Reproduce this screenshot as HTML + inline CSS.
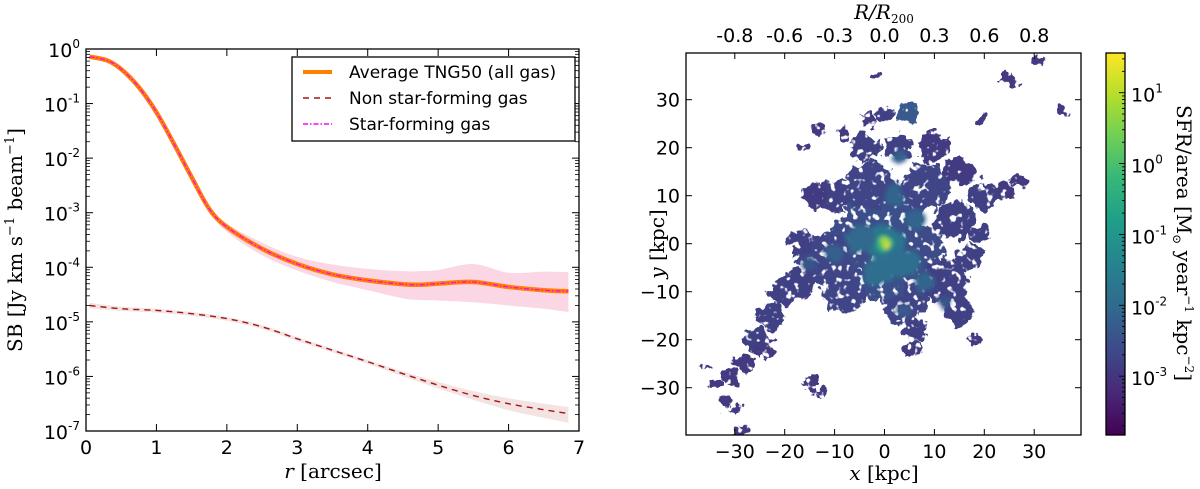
<!DOCTYPE html>
<html><head><meta charset="utf-8">
<style>
html,body{margin:0;padding:0;background:#fff;}
svg{display:block;}
.tk{font-family:"DejaVu Sans","Liberation Sans",sans-serif;font-size:19px;fill:#000;}
.sup{font-size:12px;}
.lab{font-family:"DejaVu Serif","Liberation Serif",serif;font-size:20px;fill:#000;}
.leg{font-family:"DejaVu Sans","Liberation Sans",sans-serif;font-size:17px;fill:#000;}
</style></head><body>
<svg id="fig" width="1200" height="489" viewBox="0 0 1200 489" xmlns="http://www.w3.org/2000/svg">
<defs>
<clipPath id="clipL"><rect x="86" y="49" width="493" height="382"/></clipPath>
<clipPath id="clipR"><rect x="686" y="53" width="395" height="382"/></clipPath>
<linearGradient id="vir" x1="0" y1="1" x2="0" y2="0">
<stop offset="0" stop-color="#440154"/><stop offset="0.11" stop-color="#482878"/><stop offset="0.22" stop-color="#3e4989"/><stop offset="0.33" stop-color="#31688e"/><stop offset="0.44" stop-color="#26828e"/><stop offset="0.56" stop-color="#1f9e89"/><stop offset="0.67" stop-color="#35b779"/><stop offset="0.78" stop-color="#6ece58"/><stop offset="0.89" stop-color="#b5de2b"/><stop offset="1" stop-color="#fde725"/>
</linearGradient>
<filter id="rag" x="-10%" y="-10%" width="120%" height="120%">
<feTurbulence type="fractalNoise" baseFrequency="0.09" numOctaves="3" seed="4" result="n"/>
<feDisplacementMap in="SourceGraphic" in2="n" scale="18" xChannelSelector="R" yChannelSelector="G" result="d"/>
<feTurbulence type="fractalNoise" baseFrequency="0.14" numOctaves="2" seed="9" result="n2"/>
<feColorMatrix in="n2" type="matrix" values="0 0 0 0 0  0 0 0 0 0  0 0 0 0 0  0 0 0 -10 7" result="holes"/>
<feComposite in="d" in2="holes" operator="in"/>
</filter>
<filter id="soft" x="-20%" y="-20%" width="140%" height="140%">
<feTurbulence type="fractalNoise" baseFrequency="0.08" numOctaves="2" seed="2" result="n"/>
<feDisplacementMap in="SourceGraphic" in2="n" scale="10" xChannelSelector="R" yChannelSelector="G" result="d"/>
<feGaussianBlur in="d" stdDeviation="2"/>
</filter>
</defs>
<g id="left"></g>
<g id="right"></g>
</svg>
<script>
// ---- left chart data (log10 SB) ----
const rVals      = [0.05, 0.3, 0.5, 0.75, 1.0, 1.25, 1.5, 1.75, 2.0, 2.5, 3.0, 3.5, 4.0, 4.5, 4.75, 5.0, 5.5, 6.0, 6.5, 6.85];
const allGasLog  = [-0.14,-0.21,-0.37,-0.70,-1.16,-1.74,-2.35,-2.93,-3.26,-3.66,-3.94,-4.13,-4.24,-4.31,-4.32,-4.30,-4.27,-4.36,-4.42,-4.44];
const allGasUp   = [-0.13,-0.20,-0.36,-0.69,-1.15,-1.73,-2.34,-2.90,-3.20,-3.55,-3.81,-3.95,-4.03,-4.07,-4.07,-4.05,-3.94,-4.10,-4.08,-4.09];
const allGasLo   = [-0.15,-0.22,-0.38,-0.71,-1.17,-1.75,-2.36,-2.96,-3.35,-3.78,-4.06,-4.27,-4.42,-4.57,-4.60,-4.61,-4.64,-4.70,-4.76,-4.82];
const rNon       = [0.05, 0.5, 1.0, 1.5, 2.0, 2.5, 3.0, 3.5, 4.0, 4.5, 5.0, 5.5, 6.0, 6.5, 6.85];
const nonSFLog   = [-4.70,-4.76,-4.79,-4.85,-4.94,-5.09,-5.31,-5.52,-5.73,-5.95,-6.16,-6.35,-6.50,-6.61,-6.68];
const nonSFUp    = [-4.65,-4.72,-4.76,-4.82,-4.91,-5.06,-5.28,-5.49,-5.70,-5.91,-6.10,-6.27,-6.40,-6.50,-6.56];
const nonSFLo    = [-4.75,-4.80,-4.83,-4.89,-4.98,-5.13,-5.35,-5.56,-5.77,-6.00,-6.22,-6.43,-6.62,-6.76,-6.85];
const xTicksL    = [0,1,2,3,4,5,6,7];
const yDecades   = [0,-1,-2,-3,-4,-5,-6,-7];

// ---- right chart data (kpc, log10 SFR/area) ----
const xTicksR   = [-30,-20,-10,0,10,20,30];
const yTicksR   = [30,20,10,0,-10,-20,-30];
const topLabels = ["-0.8","-0.6","-0.3","0.0","0.3","0.6","0.8"];
const cbDecades = [1,0,-1,-2,-3];
// outer diffuse gas
const blobX   = [0,-6,6,-3,8,-12,-8,4,12,14,-10,-4,3,10,15,-17,-14,-20,-23,-26,-28,-31,-32,-34,-29,-15,-13,20,24,27,6,6,15,18,4.5,0,-3,-8,-13,25,31,36,19,-2,-16,17,19,-17,8,0,-24,-30,-36];
const blobY   = [5,0,-3,12,12,-3,-10,-12,-8,5,10,20,20,20,15,0,10,-10,-15,-20,-25,-28,-33,-29,-39,-29,-31,10,11,13,-18,-22,-14,-20,27,27,26,23,24,34,38,27,26,35,20,-3,2,-8,0,-7,-22,-35,-26];
const blobR   = [8,6,6,5,5,5,4.5,4.5,4.5,4,3.5,3,3,3,3,2.5,2.5,3,3,2.5,2,1.8,1.5,1.2,1.2,1.5,1.2,3,2,1.5,2.5,1.5,3,1.5,2,1.5,1.5,1.5,1,1.5,1.2,1.2,1,0.8,1,3,2,3,4,5,2,1.2,1.2];
const blobLvl = [-2.5,-2.6,-2.6,-2.7,-2.7,-2.7,-2.7,-2.7,-2.8,-2.8,-2.8,-2.8,-2.8,-2.9,-2.9,-2.8,-2.9,-2.8,-2.8,-2.8,-2.9,-2.9,-2.9,-2.9,-2.9,-2.9,-2.9,-2.8,-2.9,-2.9,-2.8,-2.9,-2.8,-2.9,-2.3,-2.8,-2.9,-2.9,-2.9,-2.9,-2.9,-2.9,-2.9,-2.9,-2.9,-2.8,-2.8,-2.8,-2.6,-2.5,-2.9,-2.9,-2.9];
// inner filaments and core
const coreX   = [0,-5,4,2,3,-10,8,-1,6,4,-15,12, 0,0,0.5];
const coreY   = [0,1,-4,10,18,-2,-8,-6,5,-14,-4,-12, 0,0.2,-0.5];
const coreR   = [4,3,3,2.2,1.5,2,2,3,2,1.5,1.5,1.5, 1.8,1,0.6];
const coreLvl = [-1.7,-2.0,-1.9,-2.1,-2.2,-2.2,-2.1,-1.9,-2.1,-2.3,-2.4,-2.4, -0.5,0.8,1.3];

const NS = "http://www.w3.org/2000/svg";
function mk(parent, tag, attrs, text){
  const e = document.createElementNS(NS, tag);
  for (const k in attrs) e.setAttribute(k, attrs[k]);
  if (text !== undefined) e.textContent = text;
  parent.appendChild(e);
  return e;
}
// ---------- LEFT ----------
const L = document.getElementById('left');
const lx0=86, lx1=579, ly0=49, ly1=431;
const xL = r => lx0 + (r/7)*(lx1-lx0);
const yL = lg => ly0 + (-lg/7)*(ly1-ly0);
function smoothPath(xs, ys){
  const p = xs.map((v,i)=>[v,ys[i]]);
  let d = `M${p[0][0]},${p[0][1]}`;
  for (let i=0;i<p.length-1;i++){
    const p0=p[Math.max(0,i-1)], p1=p[i], p2=p[i+1], p3=p[Math.min(p.length-1,i+2)];
    const c1=[p1[0]+(p2[0]-p0[0])/6, p1[1]+(p2[1]-p0[1])/6];
    const c2=[p2[0]-(p3[0]-p1[0])/6, p2[1]-(p3[1]-p1[1])/6];
    d += ` C${c1[0]},${c1[1]} ${c2[0]},${c2[1]} ${p2[0]},${p2[1]}`;
  }
  return d;
}
function bandPath(rs, up, lo){
  const px = rs.map(xL);
  let d = smoothPath(px, up.map(yL));
  const rpx = px.slice().reverse(), rlo = lo.map(yL).reverse();
  d += ' L' + smoothPath(rpx, rlo).slice(1) + ' Z';
  return d;
}
const plotL = mk(L,'g',{'clip-path':'url(#clipL)'});
let e;
e = mk(plotL,'path',{d:bandPath(rVals,allGasUp,allGasLo),fill:'#f9c9dc','fill-opacity':'0.75'});


e = mk(plotL,'path',{d:bandPath(rNon,nonSFUp,nonSFLo),fill:'#f0dcdc','fill-opacity':'0.8'});


e = mk(plotL,'path',{d:smoothPath(rVals.map(xL),allGasLog.map(yL)),fill:'none',stroke:'#ff8000','stroke-width':'4.5'});


e = mk(plotL,'path',{d:smoothPath(rVals.map(xL),allGasLog.map(yL)),fill:'none',stroke:'#ff00ff','stroke-width':'1.3','stroke-dasharray':'5,2,1.5,2'});


e = mk(plotL,'path',{d:smoothPath(rNon.map(xL),nonSFLog.map(yL)),fill:'none',stroke:'#a31515','stroke-width':'1.4','stroke-dasharray':'6,5'});


e = mk(L,'rect',{x:lx0,y:ly0,width:lx1-lx0,height:ly1-ly0,fill:'none',stroke:'#000','stroke-width':'1.3'});


xTicksL.forEach(t=>{
  const x=xL(t);
  mk(L,'line',{x1:x,x2:x,y1:ly1,y2:ly1-7,stroke:'#000'});
  mk(L,'line',{x1:x,x2:x,y1:ly0,y2:ly0+7,stroke:'#000'});
  const tx = mk(L,'text',{x:x,y:454,'text-anchor':'middle',class:'tk'},String(t));
  
  
});
yDecades.forEach(dd=>{
  const y=yL(dd);
  mk(L,'line',{x1:lx0,x2:lx0+7,y1:y,y2:y,stroke:'#000'});
  mk(L,'line',{x1:lx1,x2:lx1-7,y1:y,y2:y,stroke:'#000'});
  if (dd>-7){ for(let m=2;m<10;m++){ const ym=yL(dd-1+Math.log10(m));
    mk(L,'line',{x1:lx0,x2:lx0+4,y1:ym,y2:ym,stroke:'#000','stroke-width':'0.8'});
    mk(L,'line',{x1:lx1,x2:lx1-4,y1:ym,y2:ym,stroke:'#000','stroke-width':'0.8'}); } }
  const tx = mk(L,'text',{x:80,y:y+8,'text-anchor':'end',class:'tk'});
  
  
  mk(tx,'tspan',{},'10');
  mk(tx,'tspan',{class:'sup',dy:'-9'},String(dd));
});
e = mk(L,'text',{x:333,y:478,'text-anchor':'middle',class:'lab'});


mk(e,'tspan',{'font-style':'italic'},'r');
mk(e,'tspan',{},' [arcsec]');
e = mk(L,'text',{x:0,y:0,'text-anchor':'middle',class:'lab',transform:'translate(22,240) rotate(-90)'});


mk(e,'tspan',{},'SB [Jy km s');
mk(e,'tspan',{dy:'-8','font-size':'13'},'−1');
mk(e,'tspan',{dy:'8'},' beam');
mk(e,'tspan',{dy:'-8','font-size':'13'},'−1');
mk(e,'tspan',{dy:'8'},']');
// legend
const lg = mk(L,'g',{});


mk(lg,'rect',{x:292,y:57,width:283,height:84,fill:'#fff',stroke:'#000','stroke-width':'1.3'});
mk(lg,'line',{x1:303,x2:332,y1:72,y2:72,stroke:'#ff8000','stroke-width':'4'});
mk(lg,'line',{x1:303,x2:332,y1:98,y2:98,stroke:'#a31515','stroke-width':'1.4','stroke-dasharray':'6,5'});
mk(lg,'line',{x1:303,x2:332,y1:124,y2:124,stroke:'#ff00ff','stroke-width':'1.5','stroke-dasharray':'5,2,1.5,2'});
[['Average TNG50 (all gas)',72,'legend-entry-all-gas'],['Non star-forming gas',98,'legend-entry-non-sf'],['Star-forming gas',124,'legend-entry-sf']].forEach(a=>{
  const t = mk(lg,'text',{x:349,y:a[1]+6,class:'leg'},a[0]);
  
  
});

// ---------- RIGHT ----------
const R = document.getElementById('right');
const rx0=686, rx1=1081, ry0=53, ry1=435;
const xR = k => 884.5 + k*4.99;
const yR = k => 243.7 - k*4.8;
const cmin=-3.83, cmax=1.56;
const vir = ['#440154','#482878','#3e4989','#31688e','#26828e','#1f9e89','#35b779','#6ece58','#b5de2b','#fde725'];
function hex2(c){return [1,3,5].map(i=>parseInt(c.substr(i,2),16));}
function color(lv){
  let t=(lv-cmin)/(cmax-cmin); t=Math.max(0,Math.min(1,t));
  const f=t*(vir.length-1), i=Math.min(vir.length-2,Math.floor(f)), u=f-i;
  const a=hex2(vir[i]), b=hex2(vir[i+1]);
  return 'rgb('+a.map((v,j)=>Math.round(v+(b[j]-v)*u)).join(',')+')';
}
const plotR = mk(R,'g',{'clip-path':'url(#clipR)'});
const ragged = mk(plotR,'g',{filter:'url(#rag)'});
blobX.forEach((bx,i)=>{
  const c = mk(ragged,'ellipse',{cx:xR(bx),cy:yR(blobY[i]),rx:blobR[i]*4.99,ry:blobR[i]*4.8,fill:color(blobLvl[i])});
  
  
});
const inner = mk(plotR,'g',{filter:'url(#soft)'});
coreX.forEach((bx,i)=>{
  const c = mk(inner,'ellipse',{cx:xR(bx),cy:yR(coreY[i]),rx:coreR[i]*4.99,ry:coreR[i]*4.8,fill:color(coreLvl[i])});
  
  
});
e = mk(R,'rect',{x:rx0,y:ry0,width:rx1-rx0,height:ry1-ry0,fill:'none',stroke:'#000','stroke-width':'1.3'});


xTicksR.forEach((t,i)=>{
  const x=xR(t);
  mk(R,'line',{x1:x,x2:x,y1:ry1,y2:ry1-6,stroke:'#000'});
  mk(R,'line',{x1:x,x2:x,y1:ry0,y2:ry0+6,stroke:'#000'});
  const tx = mk(R,'text',{x:x,y:458,'text-anchor':'middle',class:'tk'},t<0?'−'+(-t):String(t));
  
  
  const tt = mk(R,'text',{x:x,y:42,'text-anchor':'middle',class:'tk'},topLabels[i]);
  
  
});
yTicksR.forEach(t=>{
  const y=yR(t);
  mk(R,'line',{x1:rx0,x2:rx0+6,y1:y,y2:y,stroke:'#000'});
  mk(R,'line',{x1:rx1,x2:rx1-6,y1:y,y2:y,stroke:'#000'});
  const tx = mk(R,'text',{x:680,y:y+7,'text-anchor':'end',class:'tk'},t<0?'−'+(-t):String(t));
  
  
});
e = mk(R,'text',{x:884,y:480,'text-anchor':'middle',class:'lab'});


mk(e,'tspan',{'font-style':'italic'},'x');
mk(e,'tspan',{},' [kpc]');
e = mk(R,'text',{x:0,y:0,'text-anchor':'middle',class:'lab',transform:'translate(664,244) rotate(-90)'});


mk(e,'tspan',{'font-style':'italic'},'y');
mk(e,'tspan',{},' [kpc]');
e = mk(R,'text',{x:884,y:19,'text-anchor':'middle',class:'lab'});


mk(e,'tspan',{'font-style':'italic'},'R/R');
mk(e,'tspan',{'font-size':'12',dy:'4'},'200');
// colorbar
const cbx0=1106, cbx1=1125;
const yC = lv => ry0 + (cmax-lv)/(cmax-cmin)*(ry1-ry0);
e = mk(R,'rect',{x:cbx0,y:ry0,width:cbx1-cbx0,height:ry1-ry0,fill:'url(#vir)',stroke:'#000','stroke-width':'1.3'});


for(let d=2; d>=-4; d--){ for(let m=1;m<10;m++){ const lv=d+Math.log10(m); if(lv>cmax||lv<cmin) continue;
  const y=yC(lv); mk(R,'line',{x1:cbx1,x2:cbx1-(m===1?6:3),y1:y,y2:y,stroke:'#000','stroke-width':'0.9'}); } }
cbDecades.forEach(dd=>{
  const tx = mk(R,'text',{x:1131,y:yC(dd)+9,class:'tk'});
  
  
  mk(tx,'tspan',{},'10');
  mk(tx,'tspan',{class:'sup',dy:'-9'},String(dd));
});
e = mk(R,'text',{x:0,y:0,'text-anchor':'middle',class:'lab',transform:'translate(1177,243) rotate(90)'});


mk(e,'tspan',{},'SFR/area [M');
mk(e,'tspan',{'font-size':'12',dy:'4'},'⊙');
mk(e,'tspan',{dy:'-4'},' year');
mk(e,'tspan',{'font-size':'12',dy:'-8'},'−1');
mk(e,'tspan',{dy:'8'},' kpc');
mk(e,'tspan',{'font-size':'12',dy:'-8'},'−2');
mk(e,'tspan',{dy:'8'},']');
</script>
</body></html>
